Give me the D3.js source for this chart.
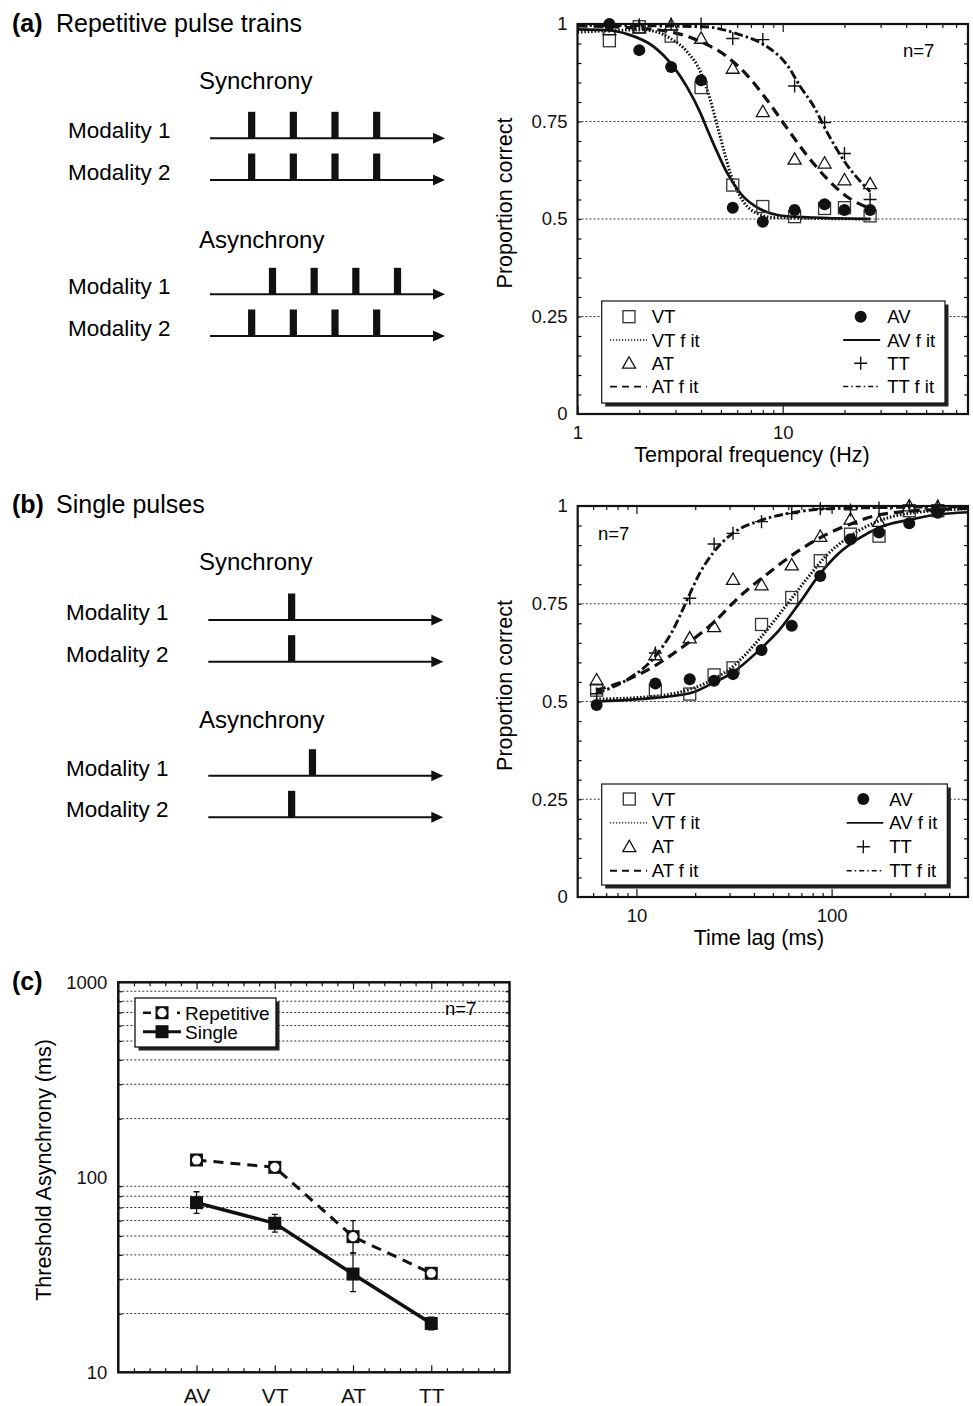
<!DOCTYPE html>
<html>
<head>
<meta charset="utf-8">
<script src="https://cdn.jsdelivr.net/npm/d3@7"></script>
<style>
body { margin: 0; background: #fff; }
svg { font-family: "Liberation Sans", Arial, Helvetica, sans-serif; }
</style>
</head>
<body>
<svg id="fig" width="973" height="1406"></svg>
<script>
// ---------- data: panel (a) repetitive pulse trains ----------
var freqA = [1.43, 2, 2.86, 4, 5.71, 8, 11.43, 16, 20, 26.67];
var avA = [1.0, 0.933, 0.89, 0.856, 0.529, 0.493, 0.523, 0.538, 0.523, 0.523];
var vtA = [0.957, 0.993, 0.969, 0.837, 0.587, 0.532, 0.506, 0.527, 0.529, 0.508];
var atA = [0.985, 0.989, 0.997, 0.963, 0.886, 0.775, 0.653, 0.643, 0.600, 0.590];
var ttA = [0.995, 0.998, 1.0, 1.0, 0.963, 0.960, 0.841, 0.747, 0.668, 0.550];
// fitted curves as [frequency, proportion]
var fitVtA = [[1, 0.979], [2.1, 0.985], [2.84, 0.963], [3.42, 0.929], [3.97, 0.878], [4.44, 0.805], [4.79, 0.741], [5.16, 0.677], [5.56, 0.617], [6.22, 0.557], [7.22, 0.519], [9.04, 0.504], [26.7, 0.5]];
var fitAvA = [[1, 0.986], [1.4, 0.984], [1.75, 0.974], [2.35, 0.942], [2.94, 0.89], [3.42, 0.838], [3.97, 0.772], [4.28, 0.731], [4.79, 0.672], [5.36, 0.618], [6.22, 0.566], [7.79, 0.525], [10.5, 0.507], [26.7, 0.5]];
var fitAtA = [[1, 0.995], [1.75, 0.991], [2.84, 0.980], [3.97, 0.955], [5.36, 0.916], [6.7, 0.869], [8.39, 0.805], [10.5, 0.733], [13.1, 0.664], [16.4, 0.604], [20.6, 0.557], [26.7, 0.527]];
var fitTtA = [[1, 0.997], [4.12, 0.993], [6.22, 0.972], [8.39, 0.942], [10.5, 0.895], [12.2, 0.839], [14.2, 0.788], [16.4, 0.724], [19.8, 0.651], [26.7, 0.570]];

// ---------- data: panel (b) single pulses ----------
var lagB = [6.25, 12.5, 18.75, 25, 31.25, 43.75, 62.5, 87.5, 125, 175, 250, 350];
var avB = [0.491, 0.546, 0.557, 0.553, 0.570, 0.632, 0.694, 0.821, 0.915, 0.932, 0.956, 0.983];
var vtB = [0.529, 0.529, 0.519, 0.568, 0.586, 0.697, 0.766, 0.860, 0.928, 0.923, 0.988, 0.988];
var atB = [0.555, 0.619, 0.662, 0.691, 0.812, 0.798, 0.849, 0.922, 0.966, 0.960, 1.0, 0.998];
var ttB = [0.52, 0.624, 0.764, 0.903, 0.930, 0.960, 0.981, 0.993, 0.99, 0.995, 1.0, 1.0];
var fitVtB = [[6.2, 0.506], [12.6, 0.514], [18.75, 0.531], [24.6, 0.556], [31.1, 0.589], [42.7, 0.66], [58.4, 0.745], [75, 0.815], [93.5, 0.872], [118, 0.915], [162, 0.955], [228, 0.978], [500, 0.993]];
var fitAvB = [[6.2, 0.5], [10.4, 0.506], [18.75, 0.521], [24.6, 0.547], [31.1, 0.574], [42.7, 0.632], [54, 0.683], [68.2, 0.751], [86.5, 0.824], [109, 0.879], [138, 0.917], [180, 0.947], [246, 0.964], [337, 0.977], [500, 0.984]];
var fitAtB = [[6.2, 0.529], [8.54, 0.551], [12.2, 0.589], [17.3, 0.640], [24.6, 0.700], [33.7, 0.768], [46.2, 0.824], [63.1, 0.875], [89.8, 0.922], [128, 0.956], [187, 0.980], [500, 0.994]];
var fitTtB = [[6.2, 0.521], [8.89, 0.555], [12.2, 0.610], [15.4, 0.683], [18, 0.755], [21.1, 0.828], [24.6, 0.879], [31.1, 0.930], [42.7, 0.962], [63.1, 0.983], [109, 0.994], [500, 0.998]];

// ---------- data: panel (c) thresholds ----------
var conditions = ["AV", "VT", "AT", "TT"];
var repetitive = [122.7, 112.5, 49.6, 32.2];
var repLo = [116, 106, 41, 30.5];
var repHi = [130, 119, 60, 34];
var single = [74.1, 58.1, 31.9, 17.8];
var singleLo = [65.3, 52.3, 25.9, 16.5];
var singleHi = [84.3, 64.6, 40.8, 19.2];

// ---------- pulse diagrams (pulse times in pulse-interval units) ----------
var trainSync = [1, 2, 3, 4];
var trainAsync = [1.5, 2.5, 3.5, 4.5];
var pulseSync = [2];
var pulseAsync = [2.5];

var propTicks = [0, 0.25, 0.5, 0.75, 1];

var svg = d3.select("#fig");

var fitStyle = {
    solid:   {w: 2.7, dash: null,          lw: 1.9, ldash: null},
    dotted:  {w: 3,   dash: "1.6,1.8",     lw: 1.4, ldash: "1.2,1.8"},
    dashed:  {w: 3.2, dash: "10,6",        lw: 1.9, ldash: "7,5"},
    dashdot: {w: 2.9, dash: "9,3,2.5,3",   lw: 1.5, ldash: "5,3,1.5,3"}
};

function marker(g, type, cx, cy) {
    if (type == "circle") {
        g.append("circle").attr("cx", cx).attr("cy", cy).attr("r", 6).attr("fill", "#111");
    } else if (type == "square") {
        g.append("rect").attr("x", cx - 6).attr("y", cy - 6).attr("width", 12).attr("height", 12)
            .attr("fill", "none").attr("stroke", "#333").attr("stroke-width", 1.3);
    } else if (type == "triangle") {
        g.append("path").attr("d", "M" + cx + "," + (cy - 6.5) + "L" + (cx + 6.5) + "," + (cy + 4.8) + "L" + (cx - 6.5) + "," + (cy + 4.8) + "Z")
            .attr("fill", "none").attr("stroke", "#111").attr("stroke-width", 1.3);
    } else if (type == "plus") {
        g.append("path").attr("d", "M" + (cx - 6.5) + "," + cy + "H" + (cx + 6.5) + "M" + cx + "," + (cy - 6.5) + "V" + (cy + 6.5))
            .attr("fill", "none").attr("stroke", "#111").attr("stroke-width", 1.4);
    }
}

function styleAxis(g, size) {
    g.attr("font-family", null).attr("font-size", size);
    g.select(".domain").remove();
    g.selectAll(".tick line").attr("stroke", "#111").attr("stroke-width", 1.2);
    g.selectAll(".tick text").attr("fill", "#111");
}

// ---------- left side pulse diagrams ----------
function drawDiagram(o) {
    var g = svg.append("g");
    g.append("text").attr("x", 12).attr("y", o.ty).attr("font-size", 25).attr("font-weight", "bold").text(o.tag);
    g.append("text").attr("x", 56).attr("y", o.ty).attr("font-size", 25).text(o.title);

    var t = d3.scaleLinear().domain([0, 5.64]).range([o.x0, o.x0 + 235]);

    o.blocks.forEach(function(b) {
        g.append("text").attr("x", 199).attr("y", b.hy).attr("font-size", 24).text(b.heading);
        b.rows.forEach(function(r) {
            g.append("text").attr("x", o.lx).attr("y", r.y).attr("font-size", 22.5).text(r.label);
            g.append("line").attr("x1", t(0)).attr("x2", t(5.64) - 10).attr("y1", r.y).attr("y2", r.y)
                .attr("stroke", "#111").attr("stroke-width", 2);
            g.append("path")
                .attr("d", "M" + t(5.64) + "," + r.y + "L" + (t(5.64) - 12) + "," + (r.y - 5.5) + "L" + (t(5.64) - 12) + "," + (r.y + 5.5) + "Z")
                .attr("fill", "#111");
            g.selectAll(null).data(r.pulses).enter().append("rect")
                .attr("x", function(d) { return t(d) - 3.6; })
                .attr("y", r.y - 26.5)
                .attr("width", 7.2)
                .attr("height", 26.5)
                .attr("fill", "#111");
        });
    });
}

drawDiagram({
    tag: "(a)", title: "Repetitive pulse trains", ty: 32, x0: 210, lx: 68,
    blocks: [
        {heading: "Synchrony", hy: 89, rows: [
            {label: "Modality 1", y: 138.3, pulses: trainSync},
            {label: "Modality 2", y: 180, pulses: trainSync}]},
        {heading: "Asynchrony", hy: 248, rows: [
            {label: "Modality 1", y: 294.3, pulses: trainAsync},
            {label: "Modality 2", y: 336, pulses: trainSync}]}
    ]
});

drawDiagram({
    tag: "(b)", title: "Single pulses", ty: 513, x0: 208.3, lx: 66,
    blocks: [
        {heading: "Synchrony", hy: 570, rows: [
            {label: "Modality 1", y: 620, pulses: pulseSync},
            {label: "Modality 2", y: 661.7, pulses: pulseSync}]},
        {heading: "Asynchrony", hy: 728.3, rows: [
            {label: "Modality 1", y: 775.7, pulses: pulseAsync},
            {label: "Modality 2", y: 817.3, pulses: pulseSync}]}
    ]
});

// ---------- psychometric panels ----------
function drawPsych(p) {
    var x = d3.scaleLog().domain(p.xDomain).range([p.left, p.right]);
    var y = d3.scaleLinear().domain([0, 1]).range([p.bottom, p.top]);
    var g = svg.append("g");

    // dotted gridlines
    g.selectAll(null).data([0.25, 0.5, 0.75]).enter().append("line")
        .attr("x1", p.left).attr("x2", p.right)
        .attr("y1", function(d) { return y(d); }).attr("y2", function(d) { return y(d); })
        .attr("stroke", "#222").attr("stroke-width", 0.9).attr("stroke-dasharray", "2,2");

    // axes with inward ticks
    g.append("g").attr("transform", "translate(0," + p.bottom + ")")
        .call(d3.axisBottom(x).tickValues(p.xMinor).tickSize(-4).tickFormat("")).call(styleAxis, 18.5);
    g.append("g").attr("transform", "translate(0," + p.bottom + ")")
        .call(d3.axisBottom(x).tickValues(p.xMajor).tickSize(-8).tickPadding(12).tickFormat(d3.format("d"))).call(styleAxis, 18.5);
    g.append("g").attr("transform", "translate(0," + p.top + ")")
        .call(d3.axisTop(x).tickValues(p.xMinor).tickSize(-4).tickFormat("")).call(styleAxis, 18.5);
    g.append("g").attr("transform", "translate(0," + p.top + ")")
        .call(d3.axisTop(x).tickValues(p.xMajor).tickSize(-8).tickFormat("")).call(styleAxis, 18.5);
    var fine = d3.range(0.05, 1, 0.05);
    g.append("g").attr("transform", "translate(" + p.left + ",0)")
        .call(d3.axisLeft(y).tickValues(fine).tickSize(-4).tickFormat("")).call(styleAxis, 18.5);
    g.append("g").attr("transform", "translate(" + p.right + ",0)")
        .call(d3.axisRight(y).tickValues(fine).tickSize(-4).tickFormat("")).call(styleAxis, 18.5);
    g.append("g").attr("transform", "translate(" + p.left + ",0)")
        .call(d3.axisLeft(y).tickValues(propTicks).tickSize(0).tickPadding(10)
            .tickFormat(function(d) { return String(+d.toFixed(2)); })).call(styleAxis, 18.5);

    // axis titles
    g.append("text").attr("x", p.xTitleX).attr("y", p.bottom + 48).attr("text-anchor", "middle")
        .attr("font-size", 21.5).text(p.xTitle);
    g.append("text").attr("transform", "translate(505," + ((p.top + p.bottom) / 2 - 16) + ") rotate(-90)")
        .attr("text-anchor", "middle").attr("dominant-baseline", "central")
        .attr("font-size", 21.5).text("Proportion correct");

    // fitted curves
    var line = d3.line()
        .x(function(d) { return x(d[0]); })
        .y(function(d) { return y(d[1]); })
        .curve(d3.curveMonotoneX);
    p.fits.forEach(function(f) {
        var s = fitStyle[f.style];
        g.append("path").attr("d", line(f.pts)).attr("fill", "none")
            .attr("stroke", "#111").attr("stroke-width", s.w)
            .attr("stroke-dasharray", s.dash);
    });

    // data markers
    p.series.forEach(function(s) {
        s.values.forEach(function(v, i) {
            marker(g, s.type, x(p.xs[i]), y(v));
        });
    });

    g.append("text").attr("x", p.nx).attr("y", p.ny).attr("font-size", 18.5).text("n=7");

    // legend with drop shadow
    var L = p.legend;
    g.append("rect").attr("x", L.x + 3.5).attr("y", L.y + 3.5).attr("width", L.w).attr("height", L.h).attr("fill", "#222");
    g.append("rect").attr("x", L.x).attr("y", L.y).attr("width", L.w).attr("height", L.h)
        .attr("fill", "#fff").attr("stroke", "#111").attr("stroke-width", 1.2);
    p.legendItems.forEach(function(it, i) {
        var col = i < 4 ? L.cols[0] : L.cols[1];
        var cy = L.y + L.first + (i % 4) * L.step;
        if (it.type) {
            marker(g, it.type, L.x + col.sym, cy);
        } else {
            var s = fitStyle[it.style];
            g.append("line").attr("x1", L.x + col.l0).attr("x2", L.x + col.l1).attr("y1", cy).attr("y2", cy)
                .attr("stroke", "#111").attr("stroke-width", s.lw).attr("stroke-dasharray", s.ldash);
        }
        g.append("text").attr("x", L.x + col.txt).attr("y", cy + 6.5).attr("font-size", 18.5).text(it.label);
    });

    // frame
    g.append("rect").attr("x", p.left).attr("y", p.top).attr("width", p.right - p.left).attr("height", p.bottom - p.top)
        .attr("fill", "none").attr("stroke", "#111").attr("stroke-width", 2.2);
}

var legendItems = [
    {type: "square", label: "VT"},
    {style: "dotted", label: "VT f it"},
    {type: "triangle", label: "AT"},
    {style: "dashed", label: "AT f it"},
    {type: "circle", label: "AV"},
    {style: "solid", label: "AV f it"},
    {type: "plus", label: "TT"},
    {style: "dashdot", label: "TT f it"}
];

drawPsych({
    xDomain: [1, 80], left: 577.5, right: 968, top: 24, bottom: 414,
    xMajor: [1, 10], xMinor: [2, 3, 4, 5, 6, 7, 8, 9, 20, 30, 40, 50, 60, 70],
    xTitle: "Temporal frequency (Hz)", xTitleX: 752,
    xs: freqA,
    fits: [
        {pts: fitVtA, style: "dotted"},
        {pts: fitAtA, style: "dashed"},
        {pts: fitTtA, style: "dashdot"},
        {pts: fitAvA, style: "solid"}
    ],
    series: [
        {values: vtA, type: "square"},
        {values: atA, type: "triangle"},
        {values: ttA, type: "plus"},
        {values: avA, type: "circle"}
    ],
    nx: 903, ny: 57,
    legend: {x: 601.7, y: 301, w: 343.3, h: 102, first: 15.7, step: 23.3,
        cols: [{sym: 27.3, txt: 50, l0: 8.3, l1: 45.3}, {sym: 259, txt: 285.5, l0: 241.5, l1: 278.5}]},
    legendItems: legendItems
});

drawPsych({
    xDomain: [5, 500], left: 577.7, right: 968, top: 506, bottom: 897,
    xMajor: [10, 100], xMinor: [6, 7, 8, 9, 20, 30, 40, 50, 60, 70, 80, 90, 200, 300, 400],
    xTitle: "Time lag (ms)", xTitleX: 759,
    xs: lagB,
    fits: [
        {pts: fitVtB, style: "dotted"},
        {pts: fitAtB, style: "dashed"},
        {pts: fitTtB, style: "dashdot"},
        {pts: fitAvB, style: "solid"}
    ],
    series: [
        {values: vtB, type: "square"},
        {values: atB, type: "triangle"},
        {values: ttB, type: "plus"},
        {values: avB, type: "circle"}
    ],
    nx: 598, ny: 540,
    legend: {x: 601.7, y: 784, w: 345.6, h: 101, first: 15, step: 23.9,
        cols: [{sym: 27.6, txt: 50, l0: 8.3, l1: 45.3}, {sym: 261.6, txt: 287.6, l0: 245, l1: 281.6}]},
    legendItems: legendItems
});

// ---------- panel (c) ----------
var xC = d3.scaleLinear().domain([0, 5]).range([118.3, 509.5]);
var yC = d3.scaleLog().domain([10, 1000]).range([1372.3, 982.3]);
var gC = svg.append("g");

gC.append("text").attr("x", 12).attr("y", 990).attr("font-size", 25).attr("font-weight", "bold").text("(c)");

var gridC = [20, 30, 40, 50, 60, 70, 80, 90, 200, 300, 400, 500, 600, 700, 800, 900];
gC.selectAll(null).data(gridC).enter().append("line")
    .attr("x1", xC(0)).attr("x2", xC(5))
    .attr("y1", function(d) { return yC(d); }).attr("y2", function(d) { return yC(d); })
    .attr("stroke", "#333").attr("stroke-width", 1).attr("stroke-dasharray", "2,2");

var minorC = d3.range(1, 25).map(function(i) { return i * 0.2; }).filter(function(v) { return Math.abs(v - Math.round(v)) > 0.01; });
var majorC = [1, 2, 3, 4];
gC.append("g").attr("transform", "translate(0,1372.3)")
    .call(d3.axisBottom(xC).tickValues(minorC).tickSize(-4).tickFormat("")).call(styleAxis, 21);
gC.append("g").attr("transform", "translate(0,1372.3)")
    .call(d3.axisBottom(xC).tickValues(majorC).tickSize(-7).tickPadding(16)
        .tickFormat(function(d) { return conditions[d - 1]; })).call(styleAxis, 21);
gC.append("g").attr("transform", "translate(0,982.3)")
    .call(d3.axisTop(xC).tickValues(minorC).tickSize(-4).tickFormat("")).call(styleAxis, 21);
gC.append("g").attr("transform", "translate(0,982.3)")
    .call(d3.axisTop(xC).tickValues(majorC).tickSize(-7).tickFormat("")).call(styleAxis, 21);
gC.append("g").attr("transform", "translate(118.3,0)")
    .call(d3.axisLeft(yC).tickValues(gridC).tickSize(-4).tickFormat("")).call(styleAxis, 18.5);
gC.append("g").attr("transform", "translate(509.5,0)")
    .call(d3.axisRight(yC).tickValues(gridC).tickSize(-4).tickFormat("")).call(styleAxis, 18.5);
gC.append("g").attr("transform", "translate(118.3,0)")
    .call(d3.axisLeft(yC).tickValues([10, 100, 1000]).tickSize(0).tickPadding(11).tickFormat(d3.format("d"))).call(styleAxis, 18.5);

gC.append("text").attr("transform", "translate(44,1170) rotate(-90)")
    .attr("text-anchor", "middle").attr("dominant-baseline", "central")
    .attr("font-size", 21.5).text("Threshold Asynchrony (ms)");

var lineC = d3.line()
    .x(function(d, i) { return xC(i + 1); })
    .y(function(d) { return yC(d); });
gC.append("path").attr("d", lineC(repetitive)).attr("fill", "none")
    .attr("stroke", "#111").attr("stroke-width", 3).attr("stroke-dasharray", "10,7");
gC.append("path").attr("d", lineC(single)).attr("fill", "none")
    .attr("stroke", "#111").attr("stroke-width", 3.5);

function errBars(lo, hi) {
    lo.forEach(function(v, i) {
        var cx = xC(i + 1);
        gC.append("path")
            .attr("d", "M" + cx + "," + yC(v) + "V" + yC(hi[i]) +
                "M" + (cx - 3) + "," + yC(v) + "H" + (cx + 3) +
                "M" + (cx - 3) + "," + yC(hi[i]) + "H" + (cx + 3))
            .attr("fill", "none").attr("stroke", "#111").attr("stroke-width", 1.3);
    });
}
errBars(repLo, repHi);
errBars(singleLo, singleHi);

function markC(cx, cy, open) {
    gC.append("rect").attr("x", cx - 6.5).attr("y", cy - 6.5).attr("width", 13).attr("height", 13).attr("fill", "#111");
    if (open) gC.append("circle").attr("cx", cx).attr("cy", cy).attr("r", 4.6).attr("fill", "#fff");
}
single.forEach(function(v, i) { markC(xC(i + 1), yC(v), false); });
repetitive.forEach(function(v, i) { markC(xC(i + 1), yC(v), true); });

gC.append("text").attr("x", 445).attr("y", 1015).attr("font-size", 18.5).text("n=7");

// legend (c)
gC.append("rect").attr("x", 138.5).attr("y", 1001.5).attr("width", 141).attr("height", 49).attr("fill", "#222");
gC.append("rect").attr("x", 135).attr("y", 998).attr("width", 141).attr("height", 49)
    .attr("fill", "#fff").attr("stroke", "#111").attr("stroke-width", 1.3);
gC.append("line").attr("x1", 143).attr("x2", 181).attr("y1", 1012.7).attr("y2", 1012.7)
    .attr("stroke", "#111").attr("stroke-width", 2.5).attr("stroke-dasharray", "8,26,3,20");
markC(162, 1012.7, true);
gC.append("text").attr("x", 185).attr("y", 1019.5).attr("font-size", 19).text("Repetitive");
gC.append("line").attr("x1", 143).attr("x2", 181).attr("y1", 1031.7).attr("y2", 1031.7)
    .attr("stroke", "#111").attr("stroke-width", 3);
markC(162, 1031.7, false);
gC.append("text").attr("x", 185).attr("y", 1038.5).attr("font-size", 19).text("Single");

gC.append("rect").attr("x", 118.3).attr("y", 982.3).attr("width", 391.2).attr("height", 390)
    .attr("fill", "none").attr("stroke", "#111").attr("stroke-width", 2.5);
</script>
</body>
</html>
